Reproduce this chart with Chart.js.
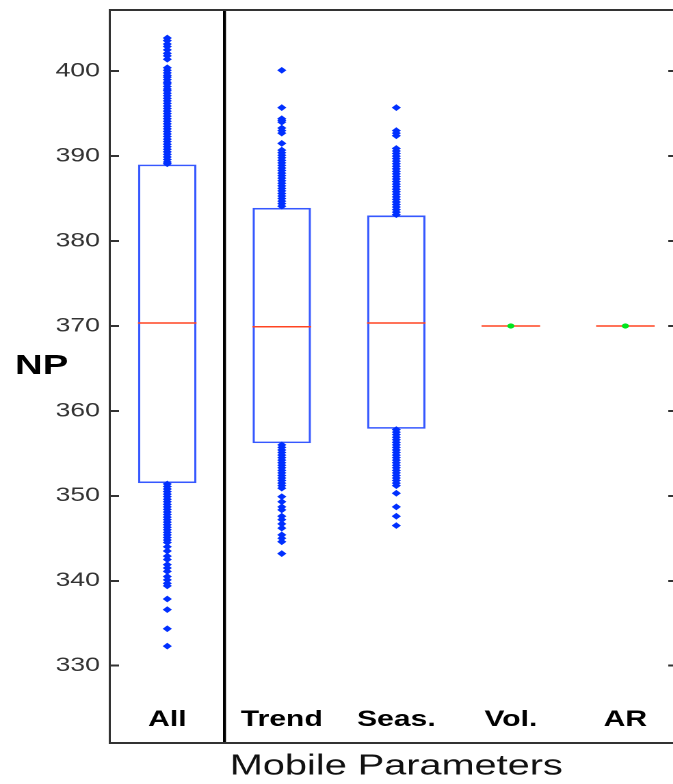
<!DOCTYPE html>
<html>
<head>
<meta charset="utf-8">
<script src="https://cdn.jsdelivr.net/npm/chart.js@4.4.1/dist/chart.umd.min.js"></script>
<style>
  html, body { margin: 0; padding: 0; background: #fff; overflow: hidden; width: 673px; height: 784px; }
  #wrap { position: relative; width: 500px; height: 784px; transform: scaleX(1.368); transform-origin: 0 0; }
  #c { position: absolute; left: 0; top: 0; }
  #np { position: absolute; left: 11px; top: 351px; font: bold 28px "Liberation Sans", Arial, sans-serif; line-height: 28px; color: #000; }
</style>
</head>
<body>
<div id="wrap">
  <canvas id="c" width="500" height="784" style="width:500px;height:784px"></canvas>
  <div id="np">NP</div>
</div>
<script>
const categories = ['All', 'Trend', 'Seas.', 'Vol.', 'AR'];
const q1 = [351.5, 356.2, 357.9, null, null];
const q3 = [389.0, 383.9, 383.0, null, null];
const medians = [370.35, 369.9, 370.35, 370.0, 370.0];
const pointEstimates = [null, null, null, 370.0, 370.0];
const yTickValues = [330, 340, 350, 360, 370, 380, 390, 400];

const allOutliers = [
  403.9, 403.6, 403.2, 402.9, 402.5, 402.1, 401.8, 401.4,
  400.4, 400.1, 399.8, 399.5, 399.3, 399.0, 398.7, 398.5, 398.2, 397.9, 397.7, 397.4,
  397.1, 396.8, 396.5, 396.2, 395.9, 395.6, 395.3, 395.0, 394.7, 394.4, 394.1, 393.8,
  393.5, 393.2, 392.9, 392.6, 392.3, 392.0, 391.7, 391.4, 391.1, 390.8, 390.5, 390.2,
  389.9, 389.6, 389.3, 389.1,
  351.4, 351.1, 350.8, 350.5, 350.2, 349.9, 349.6, 349.3, 349.0, 348.7, 348.4, 348.1,
  347.8, 347.5, 347.2, 346.9, 346.6, 346.3, 346.0, 345.7, 345.4, 345.1, 344.8, 344.5,
  344.0, 343.5, 342.9, 342.5, 341.9, 341.5, 341.1, 340.5, 340.1, 339.7, 339.4,
  337.85, 336.6, 334.35, 332.3
];
const trendOutliers = [
  400.1, 395.7, 394.4, 394.2, 394.0, 393.3, 393.0, 392.7, 391.5,
  390.7, 390.4, 390.1, 389.8, 389.5, 389.2, 388.9, 388.6, 388.3, 388.0, 387.7, 387.4,
  387.1, 386.8, 386.5, 386.2, 385.9, 385.6, 385.3, 385.0, 384.7, 384.4, 384.1,
  356.0, 355.7, 355.4, 355.1, 354.8, 354.5, 354.2, 353.9, 353.6, 353.3, 353.0, 352.7,
  352.4, 352.1, 351.8, 351.5, 351.2, 350.9,
  349.9, 349.3, 348.7, 348.35, 347.6, 347.2, 346.7, 346.2, 345.4, 345.0, 344.6, 343.2
];
const seasOutliers = [
  395.7, 393.0, 392.7, 392.4, 390.9,
  390.6, 390.3, 390.0, 389.7, 389.4, 389.1, 388.8, 388.5, 388.2, 387.9, 387.6, 387.3,
  387.0, 386.7, 386.4, 386.1, 385.8, 385.5, 385.2, 384.9, 384.6, 384.3, 384.0, 383.7,
  383.4, 383.1,
  357.8, 357.5, 357.2, 356.9, 356.6, 356.3, 356.0, 355.7, 355.4, 355.1, 354.8, 354.5,
  354.2, 353.9, 353.6, 353.3, 353.0, 352.7, 352.4, 352.1, 351.8, 351.5, 351.2,
  350.3, 348.7, 347.6, 346.5
];

const yMin = 320.9, yMax = 407.2;

const outlierPoints = []
  .concat(allOutliers.map(v => ({ x: 'All', y: v })))
  .concat(trendOutliers.map(v => ({ x: 'Trend', y: v })))
  .concat(seasOutliers.map(v => ({ x: 'Seas.', y: v })));

const setTicks = s => { s.ticks = yTickValues.map(v => ({ value: v })); };
const noPad = s => { s.paddingTop = 0; s.paddingBottom = 0; s.paddingLeft = 0; s.paddingRight = 0; };

new Chart(document.getElementById('c'), {
  type: 'bar',
  data: {
    labels: categories,
    datasets: [
      {
        type: 'line', label: 'Outliers', data: outlierPoints, showLine: false,
        pointStyle: 'rectRot', pointRadius: 2.8, pointBorderWidth: 0.8,
        pointBackgroundColor: '#0030ff', pointBorderColor: '#0030ff', order: 0
      },
      {
        type: 'line', label: 'Estimate', data: categories.map((c, i) => ({ x: c, y: pointEstimates[i] })),
        showLine: false, pointStyle: 'circle', pointRadius: 2.6, pointBorderWidth: 0,
        pointBackgroundColor: '#00e61e', order: 1
      },
      {
        type: 'line', label: 'Median', data: categories.map((c, i) => ({ x: c, y: medians[i] })),
        showLine: false, pointStyle: 'line', pointRadius: 21.4, pointBorderWidth: 1.5,
        pointBorderColor: '#ff4422', order: 2
      },
      {
        type: 'bar', label: 'IQR', data: categories.map((c, i) => q1[i] == null ? null : [q1[i], q3[i]]),
        backgroundColor: 'rgba(255,255,255,0)', borderColor: '#3658ff', borderWidth: 1.6,
        borderSkipped: false, barPercentage: 0.51, categoryPercentage: 1, order: 3
      }
    ]
  },
  options: {
    responsive: false,
    animation: false,
    devicePixelRatio: 2,
    layout: { autoPadding: false, padding: { left: 0, right: 1, top: 10, bottom: 0 } },
    plugins: { legend: { display: false }, tooltip: { enabled: false } },
    scales: {
      x: {
        type: 'category', position: 'bottom', offset: true,
        grid: {
          offset: true, drawTicks: false, lineWidth: 2.2,
          color: ctx => ctx.index === 1 ? '#000' : 'rgba(0,0,0,0)'
        },
        border: { display: true, color: '#333', width: 2 },
        ticks: { mirror: true, padding: 10, color: '#000', font: { family: 'Liberation Sans', size: 22, weight: 'bold' } },
        title: { display: true, text: 'Mobile Parameters', color: '#111', padding: { top: 6, bottom: 0 }, font: { family: 'Liberation Sans', size: 29 } },
        afterFit: s => { s.height = 41; noPad(s); }
      },
      xTop: {
        type: 'category', position: 'top', labels: categories, offset: true,
        grid: { display: false, drawTicks: false },
        border: { display: true, color: '#333', width: 2 },
        ticks: { display: false },
        afterFit: s => { s.height = 0; noPad(s); }
      },
      y: {
        type: 'linear', position: 'left', min: yMin, max: yMax,
        afterBuildTicks: setTicks,
        grid: { drawOnChartArea: false, drawTicks: true, tickLength: -6.6, color: '#333', lineWidth: 2 },
        border: { display: true, color: '#333', width: 1.5 },
        ticks: { includeBounds: false, padding: 13.9, color: '#333', font: { family: 'Liberation Sans', size: 19.5 } },
        afterFit: s => { s.width = 80.4; noPad(s); }
      },
      yRight: {
        type: 'linear', position: 'right', min: yMin, max: yMax,
        afterBuildTicks: setTicks,
        grid: { drawOnChartArea: false, drawTicks: true, tickLength: -10.5, color: '#333', lineWidth: 2 },
        border: { display: true, color: '#333', width: 1.5 },
        ticks: { display: false, includeBounds: false },
        afterFit: s => { s.width = 0; noPad(s); }
      }
    }
  }
});
</script>
</body>
</html>
